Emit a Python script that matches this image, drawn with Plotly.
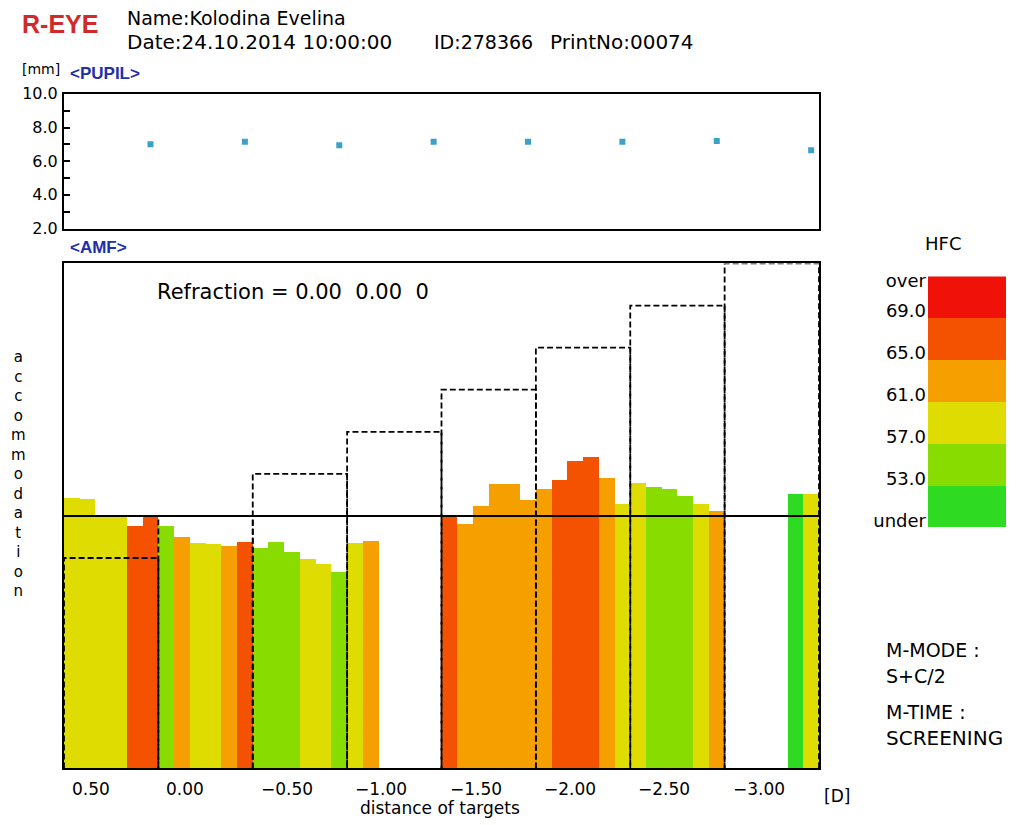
import plotly.graph_objects as go

# ---------------- data ----------------
TARGET_LABELS = ["0.50", "0.00", "\u22120.50", "\u22121.00", "\u22121.50", "\u22122.00", "\u22122.50", "\u22123.00"]
TARGET_DEMAND = [-0.5, 0.0, 0.5, 1.0, 1.5, 2.0, 2.5, 3.0]
BARS_PER_TARGET = 6

AMF_VALUES = [
    0.21, 0.19, 0.00, 0.00, -0.13, -0.01,
    -0.12, -0.25, -0.33, -0.34, -0.36, -0.32,
    -0.39, -0.32, -0.43, -0.52, -0.58, -0.67,
    -0.33, -0.30, None, None, None, None,
    0.01, -0.10, 0.11, 0.38, 0.38, 0.18,
    0.32, 0.42, 0.65, 0.69, 0.45, 0.14,
    0.39, 0.34, 0.31, 0.23, 0.14, 0.05,
    None, None, None, None, 0.25, 0.25,
]
HFC_VALUES = [
    59, 59, 59, 59, 67, 67,
    55, 63, 59, 59, 63, 67,
    55, 55, 55, 59, 59, 55,
    59, 63, None, None, None, None,
    67, 63, 63, 63, 63, 63,
    63, 67, 67, 67, 63, 59,
    59, 55, 55, 55, 59, 63,
    None, None, None, None, 51, 59,
]
PUPIL_MM = [7.0, 7.15, 6.95, 7.15, 7.15, 7.15, 7.2, 6.65]

HFC_EDGES = [53, 57, 61, 65, 69]
HFC_COLORS = ["#2edb22", "#88dc00", "#dedc00", "#f5a000", "#f45200", "#f01208"]
HFC_LABELS = ["under", "53.0", "57.0", "61.0", "65.0", "69.0", "over"]

PUPIL_TICKS = [2, 3, 4, 5, 6, 7, 8, 9, 10]

# ---------------- helpers ----------------
W, H = 1027, 825
FONT = "DejaVu Sans"


def px(x):
    return x / W


def py(y):
    # vertical layout positions measured on the reference
    return 1 - ((y - 8) / 0.979) / H


def hfc_color(v):
    if v is None:
        return "rgba(0,0,0,0)"
    idx = sum(1 for e in HFC_EDGES if v >= e)
    return HFC_COLORS[idx]


n_bars = len(AMF_VALUES)
bar_x = list(range(n_bars))
Y_MIN, Y_MAX = -3.0, 3.0
bar_len = [None if v is None else v - Y_MIN for v in AMF_VALUES]
bar_colors = [hfc_color(v) for v in HFC_VALUES]

fig = go.Figure()

# AMF bars
fig.add_trace(go.Bar(
    x=bar_x, y=bar_len, base=Y_MIN, marker=dict(color=bar_colors, line=dict(width=0)),
    width=1.0, xaxis="x2", yaxis="y2", showlegend=False, hoverinfo="skip",
))

# dashed target outlines
dx, dy = [], []
for k, d in enumerate(TARGET_DEMAND):
    x0 = k * BARS_PER_TARGET - 0.5
    x1 = x0 + BARS_PER_TARGET
    dx += [x0, x0, x1, x1, None]
    dy += [Y_MIN, d, d, Y_MIN, None]
fig.add_trace(go.Scatter(
    x=dx, y=dy, mode="lines", line=dict(color="black", width=1.8, dash="6px,3px"),
    xaxis="x2", yaxis="y2", showlegend=False, hoverinfo="skip",
))

# pupil points
pupil_x = [k * BARS_PER_TARGET + BARS_PER_TARGET - 1 for k in range(len(PUPIL_MM))]
fig.add_trace(go.Scatter(
    x=pupil_x, y=PUPIL_MM, mode="markers",
    marker=dict(symbol="square", size=6, color="#3aa2c8", line=dict(width=0)),
    xaxis="x", yaxis="y", showlegend=False, hoverinfo="skip",
))

# HFC colour key
fig.add_trace(go.Bar(
    x=[0] * len(HFC_COLORS), y=[1] * len(HFC_COLORS), base=list(range(len(HFC_COLORS))),
    marker=dict(color=HFC_COLORS, line=dict(width=0)), width=1.0,
    xaxis="x3", yaxis="y3", showlegend=False, hoverinfo="skip",
))

XDOM = [px(64), px(819)]
frame = dict(showline=True, mirror=True, linecolor="black", linewidth=2,
             showgrid=False, zeroline=False)

key_ticks = [min(max(i + 0.18, 0.07), len(HFC_COLORS) - 0.1) for i in range(len(HFC_LABELS))]

fig.update_layout(
    width=W, height=H, margin=dict(l=0, r=0, t=0, b=0),
    paper_bgcolor="white", plot_bgcolor="white",
    bargap=0, barmode="overlay",
    font=dict(family=FONT, color="black"),
    xaxis=dict(domain=XDOM, anchor="y", range=[-0.5, n_bars - 0.5],
               showticklabels=False, ticks="", **frame),
    yaxis=dict(domain=[py(228), py(93)], anchor="x", range=[2, 10],
               tickvals=PUPIL_TICKS,
               ticktext=[f"{v:.1f}" if v % 2 == 0 else "" for v in PUPIL_TICKS],
               ticks="inside", ticklen=6, tickwidth=1.5, tickcolor="black",
               tickfont=dict(size=16, family=FONT), ticklabelstandoff=1, **frame),
    xaxis2=dict(domain=XDOM, anchor="y2", range=[-0.5, n_bars - 0.5],
                showticklabels=False, ticks="", **frame),
    yaxis2=dict(domain=[py(769), py(263)], anchor="x2", range=[Y_MIN, Y_MAX],
                showticklabels=False, ticks="", **frame),
    xaxis3=dict(domain=[px(928), px(1006)], anchor="y3", range=[-0.5, 0.5],
                showticklabels=False, ticks="", showline=False, showgrid=False, zeroline=False),
    yaxis3=dict(domain=[py(528), py(276)], anchor="x3", range=[0, len(HFC_COLORS)],
                tickvals=key_ticks, ticktext=HFC_LABELS, ticks="",
                tickfont=dict(size=18, family=FONT), ticklabelstandoff=1,
                showline=False, showgrid=False, zeroline=False),
    shapes=[dict(type="line", xref="x2 domain", yref="y2", x0=0, x1=1, y0=0, y1=0,
                 line=dict(color="black", width=2))],
)

ann = []


def text(x, y, s, size=18, color="black", bold=False, xanchor="left", family=FONT):
    ann.append(dict(x=px(x), y=py(y), xref="paper", yref="paper", text=f"<b>{s}</b>" if bold else s,
                    showarrow=False, xanchor=xanchor, yanchor="middle",
                    font=dict(size=size, color=color, family=family)))


text(20, 23, "R-EYE", size=25, color="#d02a2a", bold=True, family="Liberation Sans")
text(125, 17, "Name:Kolodina Evelina", size=19)
text(125, 41, "Date:24.10.2014 10:00:00", size=20)
text(432, 41, "ID:278366", size=19)
text(548, 41, "PrintNo:00074", size=20)
text(20, 68, "[mm]", size=14)
text(68, 73, "&lt;PUPIL&gt;", size=17, color="#1f2fa8", bold=True, family="Liberation Sans")
text(68, 247, "&lt;AMF&gt;", size=17, color="#1f2fa8", bold=True, family="Liberation Sans")
text(155, 292, "Refraction = 0.00  0.00  0", size=21)
text(943, 243, "HFC", size=18, xanchor="center")
text(884, 650, "M-MODE :", size=19)
text(884, 676, "S+C/2", size=19)
text(884, 712, "M-TIME :", size=19)
text(884, 739, "SCREENING", size=20)
text(440, 809, "distance of targets", size=17, xanchor="center")
text(822, 797, "[D]", size=17)

# stacked vertical y title
ann.append(dict(x=px(18), y=py(474), xref="paper", yref="paper",
                text="<br>".join("accommodation"), showarrow=False,
                xanchor="center", yanchor="middle", align="center",
                font=dict(size=15, family=FONT)))

# target labels along the x axis
for k, lab in enumerate(TARGET_LABELS):
    ann.append(dict(x=k * BARS_PER_TARGET - 0.5, y=py(790), xref="x2", yref="paper",
                    text=lab, showarrow=False, xanchor="left", yanchor="middle",
                    xshift=6, font=dict(size=17, family=FONT)))

fig.update_layout(annotations=ann)
fig.write_html(
    "out.html",
    config={"displayModeBar": False},
    post_script="document.body.style.margin='0';document.body.style.overflow='hidden';",
)
